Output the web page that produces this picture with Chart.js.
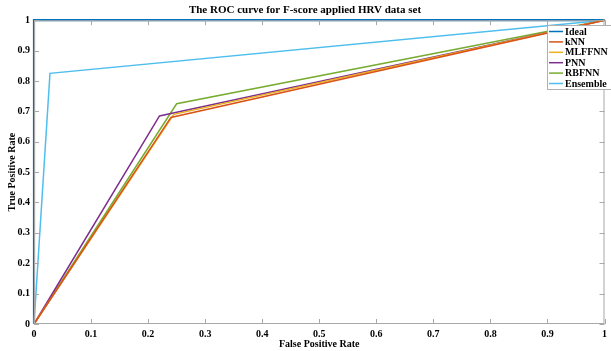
<!DOCTYPE html>
<html>
<head>
<meta charset="utf-8">
<script src="https://cdn.jsdelivr.net/npm/chart.js@4.4.0/dist/chart.umd.min.js"></script>
<style>
  html, body { margin: 0; padding: 0; background: #fff; }
  #wrap { width: 611px; height: 351px; }
</style>
</head>
<body>
<div id="wrap"><canvas id="myChart"></canvas></div>
<script>
// ROC points (false positive rate, true positive rate)
var labels = ['Ideal', 'kNN', 'MLFFNN', 'PNN', 'RBFNN', 'Ensemble']
var idealX = [0, 0, 1],        idealY = [0, 1, 1]
var knnX = [0, 0.24, 1],       knnY = [0, 0.68, 1]
var mlffnnX = [0, 0.245, 1],   mlffnnY = [0, 0.69, 1]
var pnnX = [0, 0.22, 1],       pnnY = [0, 0.685, 1]
var rbfnnX = [0, 0.25, 1],     rbfnnY = [0, 0.725, 1]
var ensembleX = [0, 0.028, 1], ensembleY = [0, 0.825, 1]
var xTicks = [0, 0.1, 0.2, 0.3, 0.4, 0.5, 0.6, 0.7, 0.8, 0.9, 1]
var yTicks = [0, 0.1, 0.2, 0.3, 0.4, 0.5, 0.6, 0.7, 0.8, 0.9, 1]

var colors = ['#0072BD', '#D95319', '#EDB120', '#7E2F8E', '#77AC30', '#4DBEEE']
var FONT = '"Liberation Serif", "Times New Roman", serif'

function pts(xs, ys) {
    var out = []
    for (var i in xs) out.push({ x: xs[i], y: ys[i] })
    return out
}

var series = [
    pts(idealX, idealY), pts(knnX, knnY), pts(mlffnnX, mlffnnY),
    pts(pnnX, pnnY), pts(rbfnnX, rbfnnY), pts(ensembleX, ensembleY)
]

var datasets = []
for (var i in series) {
    datasets.push({
        label: labels[i],
        data: series[i],
        borderColor: colors[i],
        backgroundColor: colors[i],
        borderWidth: i == 0 ? 2.2 : 1.5,
        pointRadius: 0,
        showLine: true,
        fill: false,
        clip: 4,
        order: i == 0 ? 10 : 0
    })
}

// box round the plot, inward ticks, axis titles and the legend box, like the MATLAB figure
var matlabFrame = {
    id: 'matlabFrame',
    afterDatasetsDraw: function (chart) {
        var ctx = chart.ctx, a = chart.chartArea
        var xs = chart.scales.x, ys = chart.scales.y
        ctx.save()
        ctx.strokeStyle = '#a8a8a8'
        ctx.lineWidth = 1
        ctx.beginPath()
        xTicks.forEach(function (v) {
            var px = Math.round(xs.getPixelForValue(v)) + 0.5
            ctx.moveTo(px, a.bottom); ctx.lineTo(px, a.bottom - 5)
            ctx.moveTo(px, a.top); ctx.lineTo(px, a.top + 5)
        })
        yTicks.forEach(function (v) {
            var py = Math.round(ys.getPixelForValue(v)) + 0.5
            ctx.moveTo(a.left, py); ctx.lineTo(a.left + 5, py)
            ctx.moveTo(a.right, py); ctx.lineTo(a.right - 5, py)
        })
        ctx.stroke()
        ctx.strokeRect(a.left + 0.5, a.top + 0.5, a.right - a.left - 1, a.bottom - a.top - 1)

        // axis titles
        ctx.fillStyle = '#000'
        ctx.font = 'bold 10px ' + FONT
        ctx.textAlign = 'center'
        ctx.textBaseline = 'middle'
        ctx.fillText('False Positive Rate', (a.left + a.right) / 2, 344)
        ctx.save()
        ctx.translate(12, (a.top + a.bottom) / 2)
        ctx.rotate(-Math.PI / 2)
        ctx.fillText('True Positive Rate', 0, 0)
        ctx.restore()

        // legend
        var lx = 547, ly = 25, lw = 70, lh = 64
        ctx.fillStyle = '#fff'
        ctx.fillRect(lx, ly, lw, lh)
        ctx.strokeStyle = '#b0b0b0'
        ctx.strokeRect(lx + 0.5, ly + 0.5, lw, lh)
        ctx.textAlign = 'left'
        chart.data.datasets.forEach(function (ds, k) {
            var y = ly + 6.5 + k * 10.4
            ctx.strokeStyle = ds.borderColor
            ctx.lineWidth = 1.5
            ctx.beginPath()
            ctx.moveTo(lx + 2, y); ctx.lineTo(lx + 16, y)
            ctx.stroke()
            ctx.fillStyle = '#000'
            ctx.fillText(ds.label, lx + 18, y + 0.5)
        })
        ctx.restore()
    }
}

function plainTick(v) { return String(Math.round(v * 10) / 10) }

var ctx = document.getElementById('myChart').getContext('2d')
var chart = new Chart(ctx, {
    type: 'scatter',
    data: { datasets: datasets },
    options: {
        responsive: true,
        maintainAspectRatio: false,
        animation: false,
        layout: { padding: { left: 0, right: 1, top: 0, bottom: 0 } },
        plugins: {
            legend: { display: false },
            tooltip: { enabled: false },
            title: {
                display: true,
                text: 'The ROC curve for F-score applied HRV data set',
                color: '#000',
                font: { family: FONT, size: 11, weight: 'bold' },
                padding: { top: 4, bottom: 3 }
            }
        },
        scales: {
            x: {
                type: 'linear', min: 0, max: 1,
                afterBuildTicks: function (s) { s.ticks = xTicks.map(function (v) { return { value: v } }) },
                afterFit: function (s) { s.height = 27 },
                grid: { display: false, drawTicks: false },
                border: { display: false },
                ticks: { color: '#000', padding: 4, maxRotation: 0, callback: plainTick,
                         font: { family: FONT, size: 10, weight: 'bold' } }
            },
            y: {
                type: 'linear', min: 0, max: 1,
                afterBuildTicks: function (s) { s.ticks = yTicks.map(function (v) { return { value: v } }) },
                afterFit: function (s) { s.width = 34 },
                grid: { display: false, drawTicks: false },
                border: { display: false },
                ticks: { color: '#000', padding: 4, callback: plainTick,
                         font: { family: FONT, size: 10, weight: 'bold' } }
            }
        }
    },
    plugins: [matlabFrame]
})
</script>
</body>
</html>
